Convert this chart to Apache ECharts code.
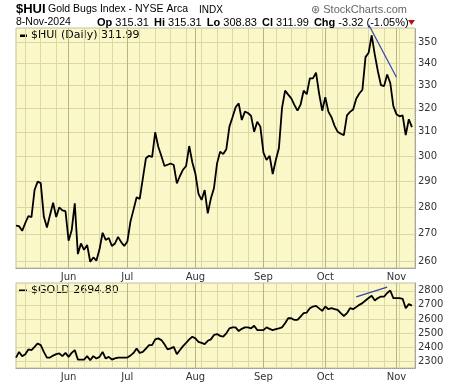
<!DOCTYPE html>
<html><head><meta charset="utf-8">
<script src="https://cdn.jsdelivr.net/npm/echarts@6/dist/echarts.min.js"></script>
<style>html,body{margin:0;padding:0;background:#fff}#c{width:460px;height:383px}</style>
</head><body><div id="c"></div>
<script>
// ---- data ----
const startDate = '2024-05-08';
const endDate = '2024-11-08';
const holidays = ['2024-05-27', '2024-06-19', '2024-07-04', '2024-09-02'];
const monthNames = ['Jan','Feb','Mar','Apr','May','Jun','Jul','Aug','Sep','Oct','Nov','Dec'];

const hui = [273.0, 272.8, 271.1, 274.0, 276.6, 276.2, 286.5, 289.8, 289.2, 276.4,
 272.3, 277.0, 281.6, 276.2, 279.9, 278.7, 278.4, 267.5, 271.3, 281.4,
 262.7, 266.5, 264.2, 266.0, 260.0, 261.5, 260.4, 264.4, 270.4, 267.8,
 268.5, 265.6, 266.5, 268.9, 267.0, 265.6, 267.2, 274.5, 279.0, 283.7,
 283.1, 291.0, 299.1, 300.1, 299.6, 309.8, 303.8, 300.0, 296.0, 296.5,
 297.0, 296.4, 289.1, 292.0, 294.5, 296.0, 304.1, 297.5, 292.9, 285.0,
 282.7, 286.5, 277.6, 283.2, 287.2, 297.0, 301.8, 300.8, 302.8, 312.2,
 316.2, 320.5, 322.2, 315.0, 318.6, 318.0, 316.8, 310.0, 314.3, 312.2,
 301.4, 298.4, 300.1, 292.8, 298.4, 303.2, 320.1, 327.8, 326.0, 324.4,
 321.5, 319.0, 321.6, 327.8, 326.2, 333.3, 333.3, 335.9, 326.5, 319.0,
 324.9, 318.6, 316.2, 312.5, 310.0, 309.2, 308.6, 317.0, 318.5, 319.5,
 324.2, 326.5, 328.2, 343.0, 345.0, 353.3, 344.2, 336.5, 330.2, 329.8,
 335.0, 331.2, 321.0, 317.5, 316.6, 317.0, 308.6, 315.31, 311.99];

const gold = [2326, 2366, 2336, 2350, 2384, 2379, 2402, 2426, 2414, 2366,
 2326, 2326, 2340, 2350, 2355, 2336, 2359, 2331, 2359, 2379,
 2312, 2312, 2312, 2336, 2307, 2336, 2319, 2331, 2366, 2319,
 2331, 2312, 2320, 2326, 2326, 2326, 2326, 2340, 2359, 2391,
 2359, 2366, 2390, 2414, 2414, 2455, 2462, 2450, 2420, 2384,
 2391, 2402, 2350, 2380, 2407, 2431, 2455, 2474, 2462, 2438,
 2430, 2421, 2445, 2455, 2486, 2493, 2480, 2474, 2498, 2533,
 2540, 2540, 2514, 2530, 2540, 2540, 2533, 2552, 2521, 2521,
 2521, 2540, 2530, 2521, 2528, 2533, 2540, 2569, 2605, 2605,
 2593, 2593, 2617, 2641, 2645, 2676, 2688, 2693, 2675, 2657,
 2688, 2669, 2676, 2670, 2664, 2641, 2621, 2641, 2676, 2669,
 2684, 2700, 2712, 2731, 2748, 2764, 2731, 2748, 2759, 2759,
 2784, 2802, 2748, 2748, 2748, 2743, 2676, 2705, 2694.8];

const huiTicks = [260, 270, 280, 290, 300, 310, 320, 330, 340, 350];
const goldTicks = [2300, 2400, 2500, 2600, 2700, 2800];
const huiRange = [257.8, 356.8];
const goldRange = [2252, 2855];
// trend lines: [date, value]
const huiTrend = [['2024-10-21', 358.5], ['2024-11-01', 333.8]];
const goldTrend = [['2024-10-15', 2757], ['2024-10-29', 2826]];

// ---- build trading-day categories ----
const dates = [];
(function () {
  const d = new Date(startDate + 'T00:00:00Z');
  const end = new Date(endDate + 'T00:00:00Z');
  while (d <= end) {
    const s = d.toISOString().slice(0, 10);
    const w = d.getUTCDay();
    if (w !== 0 && w !== 6 && holidays.indexOf(s) < 0) dates.push(s);
    d.setUTCDate(d.getUTCDate() + 1);
  }
})();
const cats = dates.concat(['']);
function dayOf(s) { return new Date(s + 'T00:00:00Z'); }
function isMonthStart(i) {
  if (i <= 0 || i >= dates.length) return false;
  return dates[i].slice(5, 7) !== dates[i - 1].slice(5, 7);
}
function isWeekStart(i) {
  if (i <= 0 || i >= dates.length) return false;
  return dayOf(dates[i]).getUTCDay() < dayOf(dates[i - 1]).getUTCDay();
}
const L = Math.log;
function trendData(tr, f) {
  return tr.map(p => [p[0], f(p[1])]);
}

const BG = '#faf8c9';
const GRIDC = '#dcd8a4';
const MONC = '#b9b583';
const LBL = { fontFamily: 'DejaVu Sans', fontSize: 10, color: '#333' };

function xAxes(gridIndex) {
  return [{
    type: 'category', gridIndex, data: cats, boundaryGap: false,
    axisLine: { show: true, lineStyle: { color: '#999', type: 'dotted' } },
    axisTick: { show: false },
    axisLabel: Object.assign({
      interval: (i) => isMonthStart(i), margin: 4,
      formatter: (v) => v ? monthNames[+v.slice(5, 7) - 1] : ''
    }, LBL),
    splitLine: { show: true, interval: (i) => isWeekStart(i), lineStyle: { color: GRIDC, width: 1 } }
  }, {
    type: 'category', gridIndex, data: cats, boundaryGap: false,
    axisLine: { show: false }, axisTick: { show: false }, axisLabel: { show: false },
    splitLine: { show: true, interval: (i) => isMonthStart(i), lineStyle: { color: MONC, width: 1 } }
  }];
}

const option = {
  animation: false,
  backgroundColor: '#fff',
  grid: [
    { left: 16, right: 45, top: 28, height: 240, show: true, backgroundColor: BG, borderColor: '#c4c09a', borderWidth: 1 },
    { left: 16, right: 45, top: 283, height: 85, show: true, backgroundColor: BG, borderColor: '#c4c09a', borderWidth: 1 }
  ],
  xAxis: xAxes(0).concat(xAxes(1)),
  yAxis: [{
    type: 'value', gridIndex: 0, position: 'right',
    min: L(huiRange[0]), max: L(huiRange[1]),
    axisLine: { show: true, lineStyle: { color: '#999', type: 'dotted' } },
    axisTick: { show: false, customValues: huiTicks.map(L) },
    axisLabel: Object.assign({ customValues: huiTicks.map(L), margin: 3,
      formatter: (v) => String(Math.round(Math.exp(v))) }, LBL),
    splitLine: { show: true, lineStyle: { color: GRIDC, width: 1 } }
  }, {
    type: 'value', gridIndex: 1, position: 'right',
    min: goldRange[0], max: goldRange[1],
    axisLine: { show: true, lineStyle: { color: '#999', type: 'dotted' } },
    axisTick: { show: false, customValues: goldTicks },
    axisLabel: Object.assign({ customValues: goldTicks, margin: 3,
      formatter: (v) => String(Math.round(v)) }, LBL),
    splitLine: { show: true, lineStyle: { color: GRIDC, width: 1 } }
  }],
  series: [{
    type: 'line', xAxisIndex: 0, yAxisIndex: 0, data: hui.map(L),
    showSymbol: false, clip: false, lineStyle: { color: '#000', width: 1.8 }, z: 5
  }, {
    type: 'line', xAxisIndex: 0, yAxisIndex: 0, data: trendData(huiTrend, L),
    showSymbol: false, clip: false, silent: true, lineStyle: { color: '#3344aa', width: 1.2 }, z: 6
  }, {
    type: 'line', xAxisIndex: 2, yAxisIndex: 1, data: gold,
    showSymbol: false, clip: false, lineStyle: { color: '#000', width: 1.8 }, z: 5
  }, {
    type: 'line', xAxisIndex: 2, yAxisIndex: 1, data: trendData(goldTrend, v => v),
    showSymbol: false, clip: false, silent: true, lineStyle: { color: '#3344aa', width: 1.2 }, z: 6
  }],
  graphic: [
    { type: 'text', left: 16, top: 3, style: { text: '$HUI', font: 'bold 13px "Liberation Sans", Arial', fill: '#000' } },
    { type: 'text', left: 48, top: 4, style: { text: 'Gold Bugs Index - NYSE Arca', font: '10.5px "Liberation Sans", Arial', fill: '#000' } },
    { type: 'text', left: 199, top: 5, style: { text: 'INDX', font: '10px "Liberation Sans", Arial', fill: '#000' } },
    { type: 'text', right: 53, top: 4, style: { text: '\u229B StockCharts.com', font: '11px "Liberation Sans", Arial', fill: '#666' } },
    { type: 'text', left: 16, top: 17, style: { text: '8-Nov-2024', font: '10.5px "Liberation Sans", Arial', fill: '#000' } },
    { type: 'text', left: 97, top: 17, style: {
      text: '{b|Op} 315.31 {c|Hi} 315.31 {c|Lo} 308.83 {c|Cl} 311.99 {c|Chg} -3.32 (-1.05%)',
      font: '11px "Liberation Sans", Arial', fill: '#000',
      rich: {
        b: { fontWeight: 'bold', fontSize: 11, fontFamily: 'Liberation Sans' },
        c: { fontWeight: 'bold', fontSize: 11, fontFamily: 'Liberation Sans', padding: [0, 0, 0, 2] }
      } } },
    { type: 'polygon', shape: { points: [[408, 20], [415, 20], [411.5, 25]] }, style: { fill: '#bb1111' } },
    { type: 'rect', shape: { x: 20, y: 34.5, width: 7, height: 2.5 }, style: { fill: '#000' } },
    { type: 'text', left: 31, top: 30, style: { text: '$HUI (Daily) 311.99', font: '11px "DejaVu Sans"', fill: '#000' } },
    { type: 'rect', shape: { x: 19, y: 289.5, width: 8, height: 2.5 }, style: { fill: '#000' } },
    { type: 'text', left: 31, top: 285, style: { text: '$GOLD 2694.80', font: '11px "DejaVu Sans"', fill: '#000' } }
  ]
};
const chart = echarts.init(document.getElementById('c'), null, { renderer: 'canvas' });
chart.setOption(option);
</script></body></html>
